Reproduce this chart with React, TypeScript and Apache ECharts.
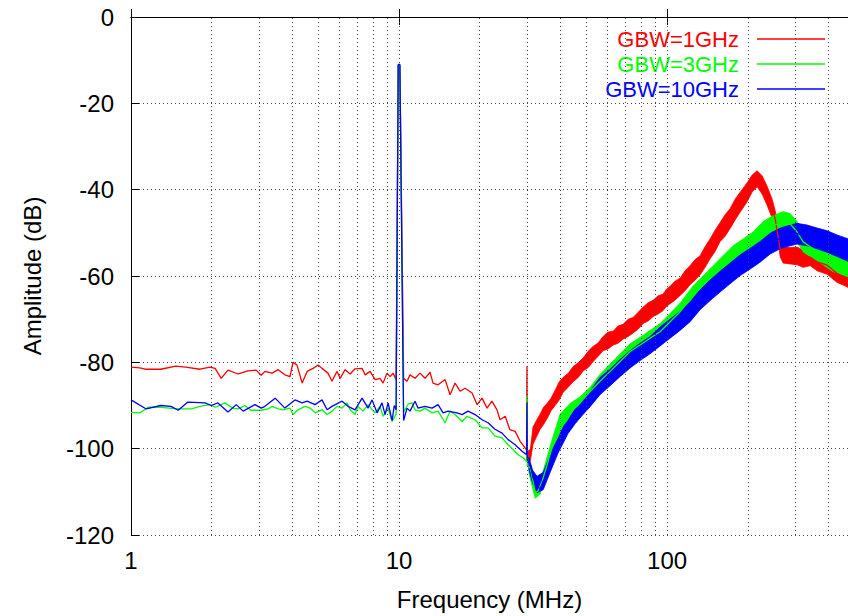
import React, { useEffect, useRef } from "react";
import * as echarts from "echarts";

const seriesNames = ["GBW=1GHz", "GBW=3GHz", "GBW=10GHz"];
const colors = ["#ff0000", "#00ff00", "#0000ff"];
const xMin = 1;
const xMax = 473;
const yMin = -120;
const yMax = 0;
const yStep = 20;
const gridValues = [2, 3, 4, 5, 6, 7, 8, 9, 10, 20, 30, 40, 50, 60, 70, 80, 90, 100, 200, 300, 400];

// [frequency MHz, dB]
const redTrace = [
  [1.0,-81.1],[1.08,-81.3],[1.13,-81.6],[1.29,-81.6],[1.47,-80.9],[1.6,-81.1],[1.81,-81.6],[1.97,-81.1],[2.06,-81.4],[2.17,-83.7],[2.3,-81.8],[2.51,-82.7],[2.73,-82.0],[2.93,-81.8],[3.06,-83.0],[3.16,-82.1],[3.36,-82.5],[3.54,-81.7],[3.75,-82.9],[3.92,-83.3],[4.02,-80.0],[4.16,-80.6],[4.35,-84.8],[4.54,-82.1],[4.78,-81.4],[4.99,-80.6],[5.16,-81.4],[5.43,-82.5],[5.62,-84.4],[5.87,-82.1],[6.03,-83.7],[6.29,-81.7],[6.57,-82.7],[6.85,-81.5],[7.28,-81.4],[7.47,-82.9],[7.8,-82.1],[8.14,-84.0],[8.49,-83.7],[8.72,-84.8],[9.02,-82.5],[9.26,-83.3],[9.5,-82.5],[9.75,-84.0],[9.93,-11.2],[10.07,-11.2],[10.4,-83.7],[10.71,-84.4],[10.99,-82.9],[11.47,-83.7],[11.98,-82.5],[12.5,-83.7],[13.05,-82.3],[13.39,-84.8],[13.98,-85.2],[14.85,-84.0],[15.5,-87.5],[16.18,-84.8],[16.89,-86.7],[17.63,-86.0],[18.73,-87.1],[19.55,-89.8],[20.4,-88.3],[21.3,-90.6],[22.2,-89.0],[23.2,-91.0],[23.8,-93.3],[24.9,-92.5],[25.9,-95.6],[27.1,-96.0],[28.3,-98.3],[29.5,-99.8],[29.9,-100.3],[30.0,-80.9],[30.1,-100.8],[30.8,-101.7],[31.6,-97.0],[33.6,-93.7],[35.7,-91.3],[38.2,-88.3],[40.9,-85.2],[44.6,-82.8],[48.6,-80.5],[53.0,-78.0],[57.7,-75.6],[62.9,-74.4],[68.5,-72.9],[74.7,-71.4],[81.4,-69.1],[88.7,-67.5],[96.6,-66.2],[102.6,-64.4],[111.8,-62.5],[121.8,-59.8],[132.8,-57.5],[144.7,-53.7],[157.7,-49.8],[171.8,-46.7],[187.3,-42.9],[198.9,-40.6],[207.7,-38.3],[216.7,-37.1],[226.2,-38.7],[236.1,-41.4],[246.5,-44.4],[252.9,-46.7],[264.0,-53.7],[270.9,-55.0],[287.7,-55.2],[305.5,-55.2],[321.7,-56.0],[341.8,-55.6],[362.9,-56.7],[395.5,-57.5],[430.9,-59.4],[469.6,-60.6]
];
const greenTrace = [
  [1.0,-91.6],[1.08,-91.7],[1.16,-90.4],[1.26,-90.4],[1.5,-90.8],[1.68,-90.8],[1.81,-90.2],[1.97,-89.8],[2.06,-90.4],[2.24,-89.4],[2.4,-90.6],[2.51,-90.8],[2.66,-90.0],[2.8,-91.1],[3.06,-91.1],[3.25,-90.8],[3.36,-90.2],[3.54,-90.8],[3.69,-91.0],[3.92,-90.6],[4.02,-92.1],[4.2,-91.0],[4.46,-90.2],[4.66,-90.6],[4.86,-91.7],[5.16,-91.0],[5.39,-92.1],[5.62,-91.3],[5.87,-90.2],[6.13,-90.6],[6.4,-89.4],[6.57,-91.0],[6.85,-92.1],[7.03,-90.2],[7.34,-91.3],[7.66,-89.8],[8.14,-91.7],[8.49,-90.2],[8.72,-92.5],[9.1,-90.6],[9.42,-93.7],[9.75,-92.0],[9.93,-11.2],[10.07,-11.2],[10.4,-91.5],[10.8,-89.7],[11.18,-89.4],[11.47,-91.0],[11.98,-91.3],[12.5,-90.6],[13.28,-91.7],[13.98,-91.3],[14.85,-94.0],[15.5,-91.3],[16.18,-92.1],[17.18,-93.7],[17.94,-92.5],[19.21,-93.3],[20.4,-95.2],[21.48,-95.2],[22.8,-97.1],[24.23,-97.5],[25.51,-99.1],[26.63,-100.2],[27.8,-101.4],[29.0,-102.1],[29.9,-103.0],[30.0,-87.8],[30.1,-104.0],[30.83,-104.4],[31.6,-107.5],[32.2,-110.2],[33.0,-109.8],[34.2,-107.5],[35.1,-105.2],[36.0,-102.9],[37.2,-99.8],[38.9,-97.5],[40.6,-94.8],[42.4,-93.3],[44.6,-91.0],[47.4,-89.4],[50.3,-87.5],[53.0,-86.0],[56.2,-84.4],[61.3,-82.1],[66.8,-79.8],[72.8,-77.5],[79.3,-76.0],[86.4,-74.4],[94.2,-72.9],[102.6,-70.6],[111.8,-68.3],[125.0,-64.4],[136.3,-62.1],[148.5,-59.8],[161.8,-57.5],[176.3,-55.2],[192.2,-53.7],[209.4,-52.1],[228.1,-49.8],[248.6,-48.3],[270.9,-47.5],[287.7,-47.9],[305.5,-49.8],[321.7,-52.1],[350.7,-53.7],[382.1,-55.2],[416.4,-56.7],[453.7,-57.5],[473.6,-57.9]
];
const blueTrace = [
  [1.0,-88.7],[1.14,-90.8],[1.29,-90.0],[1.41,-90.2],[1.5,-91.1],[1.63,-89.2],[1.89,-89.4],[1.99,-90.0],[2.11,-89.4],[2.3,-91.5],[2.47,-89.8],[2.62,-91.3],[2.9,-89.8],[3.06,-90.6],[3.16,-90.2],[3.45,-88.3],[3.75,-90.6],[4.09,-88.7],[4.35,-89.4],[4.54,-89.0],[4.86,-89.8],[5.16,-88.7],[5.39,-91.0],[5.62,-90.2],[6.13,-89.0],[6.45,-90.2],[6.85,-91.0],[7.28,-88.3],[7.66,-90.6],[7.93,-88.7],[8.28,-91.7],[8.64,-89.4],[8.87,-92.1],[9.1,-89.4],[9.42,-93.5],[9.6,-90.0],[9.75,-91.0],[9.93,-11.0],[10.07,-11.0],[10.4,-93.5],[10.71,-90.6],[10.99,-91.3],[11.47,-89.0],[11.77,-90.6],[12.5,-90.2],[13.28,-90.6],[13.98,-89.8],[14.6,-91.7],[15.23,-91.3],[16.46,-91.7],[17.18,-92.1],[18.09,-91.3],[19.21,-92.1],[20.4,-93.3],[21.48,-94.0],[22.8,-95.5],[24.23,-96.4],[25.51,-97.9],[27.1,-99.1],[28.77,-100.6],[29.9,-101.4],[30.0,-89.4],[30.1,-102.5],[30.83,-103.7],[31.6,-106.7],[32.7,-108.3],[33.6,-109.4],[34.5,-107.5],[35.7,-106.7],[36.6,-104.0],[37.5,-102.1],[39.2,-99.1],[40.9,-96.7],[42.7,-94.8],[45.4,-92.5],[48.2,-90.6],[50.7,-89.0],[53.9,-86.9],[56.2,-85.5],[61.3,-83.5],[66.8,-81.3],[72.8,-79.3],[79.3,-77.6],[86.4,-76.0],[94.2,-74.0],[102.6,-72.2],[111.8,-70.4],[121.8,-68.3],[132.8,-65.5],[144.7,-63.3],[157.7,-61.3],[171.8,-59.4],[187.3,-57.5],[204.1,-56.0],[222.3,-54.4],[242.3,-52.5],[264.0,-51.3],[287.7,-50.6],[305.5,-50.2],[333.0,-50.6],[362.9,-51.3],[395.5,-52.0],[430.9,-53.0],[473.6,-54.0]
];

// noise envelope [frequency MHz, lower dB, upper dB]
const redBand = [
  [30.4,-102.6,-100.4],[30.9,-102.8,-100.2],[31.3,-100.6,-97.2],[31.6,-99.0,-95.0],[32.6,-97.2,-93.4],[33.6,-95.5,-92.0],[34.6,-94.4,-90.4],[35.7,-93.0,-89.5],[36.9,-91.2,-88.3],[38.2,-90.0,-86.5],[39.5,-88.8,-84.6],[40.9,-87.0,-83.5],[42.7,-85.8,-82.6],[44.6,-84.5,-81.0],[46.6,-83.5,-80.1],[48.6,-82.0,-79.0],[50.8,-81.2,-77.4],[53.0,-79.8,-76.3],[55.3,-78.6,-75.5],[57.7,-77.3,-74.0],[60.2,-76.9,-73.0],[62.9,-76.0,-72.8],[65.6,-75.6,-71.6],[68.5,-74.6,-71.2],[71.6,-74.0,-70.0],[74.7,-73.2,-69.6],[78.0,-72.3,-68.4],[81.4,-71.0,-67.2],[85.0,-70.4,-66.2],[88.7,-69.4,-65.6],[92.6,-68.8,-64.6],[96.6,-68.0,-64.2],[99.6,-67.0,-63.0],[102.6,-66.4,-62.4],[107.0,-65.6,-61.2],[111.8,-64.5,-60.5],[116.7,-63.4,-58.8],[121.8,-62.0,-57.6],[127.2,-61.0,-56.2],[132.8,-59.7,-55.3],[138.6,-58.0,-53.2],[144.7,-56.0,-51.4],[151.0,-54.3,-49.4],[157.7,-52.0,-47.6],[164.6,-50.8,-45.8],[171.8,-49.0,-44.4],[179.4,-47.0,-42.2],[187.3,-45.2,-40.6],[198.9,-42.8,-38.4],[207.7,-40.5,-36.6],[216.7,-39.3,-35.6],[226.2,-41.0,-36.8],[236.1,-43.6,-39.2],[246.5,-46.6,-42.2],[252.9,-48.5,-44.8],[258.0,-50.5,-47.0],[264.0,-55.5,-51.8],[270.9,-57.0,-53.2],[287.7,-57.2,-53.4],[305.5,-57.4,-53.3],[321.7,-58.0,-54.0],[341.8,-57.6,-53.8],[362.9,-58.8,-54.8],[395.5,-59.6,-55.5],[430.9,-61.5,-57.3],[469.6,-62.5,-58.6],[473.6,-62.7,-58.8]
];
const greenBand = [
  [30.5,-105.5,-103.0],[31.3,-108.5,-105.5],[32.2,-111.5,-108.5],[33.6,-110.5,-107.5],[35.1,-107.0,-103.5],[37.2,-101.5,-98.0],[39.9,-95.5,-92.0],[43.5,-93.0,-89.5],[47.4,-91.3,-88.0],[51.6,-89.2,-85.8],[56.2,-86.2,-82.8],[61.3,-83.8,-80.4],[66.8,-81.5,-78.0],[72.8,-79.3,-75.7],[79.3,-77.8,-74.2],[86.4,-76.2,-72.6],[94.2,-74.8,-71.0],[102.6,-72.5,-68.7],[111.8,-70.3,-66.3],[125.0,-66.5,-62.3],[136.3,-64.3,-60.0],[148.5,-62.0,-57.6],[161.8,-59.7,-55.3],[176.3,-57.4,-53.0],[192.2,-56.0,-51.4],[209.4,-54.4,-49.8],[228.1,-52.2,-47.4],[248.6,-50.6,-46.0],[270.9,-49.9,-45.1],[287.7,-50.3,-45.5],[305.5,-52.2,-47.4],[321.7,-54.4,-49.8],[350.7,-56.0,-51.4],[382.1,-57.4,-53.0],[416.4,-59.0,-54.4],[453.7,-59.8,-55.2],[473.6,-60.2,-55.6]
];
const blueBand = [
  [30.5,-104.8,-102.0],[31.5,-108.0,-105.0],[32.7,-110.2,-106.4],[34.5,-109.5,-105.5],[36.6,-105.5,-101.5],[39.2,-101.0,-97.0],[42.7,-96.5,-93.0],[45.4,-94.2,-90.8],[48.2,-92.3,-88.9],[51.6,-90.3,-86.7],[56.2,-87.5,-83.5],[61.3,-85.4,-81.6],[66.8,-83.3,-79.3],[72.8,-81.3,-77.3],[79.3,-79.6,-75.6],[86.4,-78.0,-74.0],[94.2,-76.2,-71.8],[102.6,-74.4,-70.0],[111.8,-72.6,-68.2],[121.8,-70.6,-66.0],[132.8,-67.8,-63.2],[144.7,-65.7,-60.9],[157.7,-63.7,-58.9],[171.8,-61.8,-57.0],[187.3,-59.9,-55.1],[204.1,-58.4,-53.6],[222.3,-56.8,-52.0],[242.3,-54.9,-50.1],[264.0,-53.7,-48.9],[287.7,-53.0,-48.2],[305.5,-52.6,-47.8],[333.0,-53.0,-48.2],[362.9,-53.7,-48.9],[395.5,-54.5,-49.5],[430.9,-55.5,-50.5],[473.6,-56.6,-51.4]
];

const traces = [redTrace, greenTrace, blueTrace];
const bands = [redBand, greenBand, blueBand];

const FONT = "Liberation Sans, Arial, Helvetica, sans-serif";
const gridLineStyle = { color: "#444", type: [1, 3] as any, width: 1 };

function bandSeries(name: string, band: number[][], color: string) {
  return {
    type: "custom",
    name,
    data: band,
    encode: { x: 0, y: [1, 2] },
    clip: true,
    silent: true,
    z: 2,
    renderItem: (params: any, api: any) => {
      if (params.dataIndex !== 0) return null;
      const top = band.map((p) => api.coord([p[0], p[2]]));
      const bot = band.map((p) => api.coord([p[0], p[1]])).reverse();
      return {
        type: "polygon",
        shape: { points: top.concat(bot) },
        style: { fill: color, stroke: color, lineWidth: 0.8 },
      };
    },
  };
}

export default function App() {
  const ref = useRef<HTMLDivElement>(null);
  useEffect(() => {
    if (!ref.current) return;
    const chart = echarts.init(ref.current, null, { renderer: "svg" });
    const series: any[] = [
      {
        type: "line",
        name: "grid",
        data: [],
        silent: true,
        z: 1,
        markLine: {
          silent: true,
          symbol: "none",
          label: { show: false },
          lineStyle: gridLineStyle,
          data: gridValues.map((v) => ({ xAxis: v })),
        },
      },
    ];
    seriesNames.forEach((n, i) => {
      series.push(bandSeries(n + " noise", bands[i], colors[i]));
      series.push({
        type: "line",
        name: n,
        data: traces[i],
        symbol: "none",
        showSymbol: false,
        clip: true,
        lineStyle: { color: colors[i], width: 1.3 },
        itemStyle: { color: colors[i] },
        z: 3,
      });
    });
    const legendTops = [28, 53, 78];
    chart.setOption({
      animation: false,
      backgroundColor: "#fff",
      textStyle: { fontFamily: FONT },
      grid: { left: 131, right: 0, top: 17, bottom: 78, containLabel: false },
      legend: seriesNames.map((n, i) => ({
        data: [{ name: n, textStyle: { color: colors[i] } }],
        right: 23,
        top: legendTops[i],
        orient: "horizontal",
        align: "right",
        icon: "rect",
        itemWidth: 68,
        itemHeight: 1.5,
        selectedMode: false,
        padding: 0,
        textStyle: { fontSize: 22, lineHeight: 20, fontFamily: FONT, padding: [0, 13, 0, 0] },
      })),
      xAxis: [
        {
          type: "log",
          logBase: 10,
          min: xMin,
          max: xMax,
          name: "Frequency (MHz)",
          nameLocation: "middle",
          nameGap: 52,
          nameTextStyle: { fontSize: 24, color: "#000", fontFamily: FONT },
          axisLine: { show: true, lineStyle: { color: "#000", width: 1 } },
          axisTick: { show: true, inside: true, length: 8, lineStyle: { color: "#000" } },
          axisLabel: {
            fontSize: 24,
            color: "#000",
            fontFamily: FONT,
            margin: 13,
            showMaxLabel: false,
            formatter: (v: number) => String(Math.round(v)),
          },
          splitLine: { show: false },
        },
        {
          type: "log",
          logBase: 10,
          min: xMin,
          max: xMax,
          position: "top",
          axisLine: { show: true, lineStyle: { color: "#000", width: 1 } },
          axisTick: { show: true, inside: true, length: 8, lineStyle: { color: "#000" } },
          axisLabel: { show: false },
          splitLine: { show: false },
        },
      ],
      yAxis: {
        type: "value",
        min: yMin,
        max: yMax,
        interval: yStep,
        name: "Amplitude (dB)",
        nameLocation: "middle",
        nameGap: 87,
        nameTextStyle: { fontSize: 24, color: "#000", fontFamily: FONT },
        axisLine: { show: true, lineStyle: { color: "#000", width: 1 } },
        axisTick: { show: true, inside: true, length: 8, lineStyle: { color: "#000" } },
        axisLabel: { fontSize: 24, color: "#000", fontFamily: FONT, margin: 17 },
        splitLine: { show: true, lineStyle: gridLineStyle },
      },
      series,
    });
    return () => chart.dispose();
  }, []);
  return <div ref={ref} style={{ width: 848, height: 616, position: "absolute", left: 0, top: 0 }} />;
}
